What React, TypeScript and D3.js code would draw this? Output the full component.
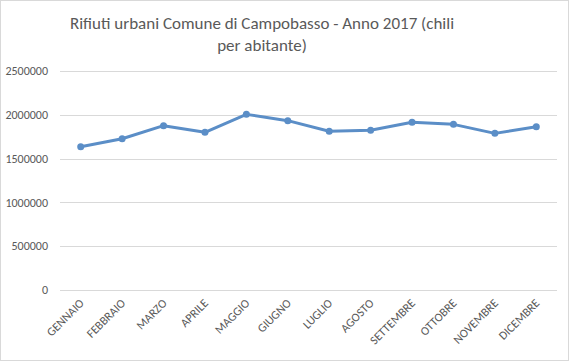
import React, { useEffect, useRef } from 'react';
import * as d3 from 'd3';

const months = ['GENNAIO', 'FEBBRAIO', 'MARZO', 'APRILE', 'MAGGIO', 'GIUGNO', 'LUGLIO', 'AGOSTO', 'SETTEMBRE', 'OTTOBRE', 'NOVEMBRE', 'DICEMBRE'];
const values = [1636000, 1727000, 1876000, 1800000, 2005000, 1933000, 1812000, 1823000, 1914000, 1891000, 1788000, 1864000];
const yTicks = [0, 500000, 1000000, 1500000, 2000000, 2500000];
const titleLines = ['Rifiuti urbani Comune di Campobasso - Anno 2017 (chili', 'per abitante)'];

const width = 569;
const height = 361;
const font = 'Calibri, Carlito, "Open Sans", sans-serif';

const App: React.FC = () => {
    const svgRef = useRef<SVGSVGElement>(null);

    useEffect(() => {
        const svg = d3.select(svgRef.current);
        svg.selectAll('*').remove();

        svg.append('rect')
            .attr('x', 0.5).attr('y', 0.5)
            .attr('width', width - 1).attr('height', height - 1)
            .attr('fill', '#fff')
            .attr('stroke', '#d9d9d9');

        const x = d3.scaleBand<string>().domain(months).range([60, 557]);
        const y = d3.scaleLinear().domain([0, 2500000]).range([290, 71]);

        // Title
        svg.append('g')
            .selectAll('text')
            .data(titleLines)
            .enter()
            .append('text')
            .attr('x', 262)
            .attr('y', (d, i) => 29 + i * 22)
            .attr('text-anchor', 'middle')
            .style('font-family', font)
            .style('font-size', '17px')
            .style('fill', '#595959')
            .text(d => d);

        // Gridlines
        svg.append('g')
            .selectAll('line')
            .data(yTicks)
            .enter()
            .append('line')
            .attr('x1', 60).attr('x2', 557)
            .attr('y1', d => Math.round(y(d)) + 0.5)
            .attr('y2', d => Math.round(y(d)) + 0.5)
            .attr('stroke', '#d9d9d9')
            .attr('stroke-width', 1);

        // Y labels
        svg.append('g')
            .selectAll('text')
            .data(yTicks)
            .enter()
            .append('text')
            .attr('x', 48)
            .attr('y', d => y(d))
            .attr('dy', '0.35em')
            .attr('text-anchor', 'end')
            .style('font-family', font)
            .style('font-size', '12px')
            .style('fill', '#595959')
            .text(d => String(d));

        // X labels
        svg.append('g')
            .selectAll('text')
            .data(months)
            .enter()
            .append('text')
            .attr('transform', d => `translate(${(x(d) ?? 0) + x.bandwidth() / 2 + 1},${301}) rotate(-45)`)
            .attr('text-anchor', 'end')
            .attr('dy', '0.35em')
            .style('font-family', font)
            .style('font-size', '12px')
            .style('fill', '#595959')
            .text(d => d);

        const pts = months.map((m, i) => [(x(m) ?? 0) + x.bandwidth() / 2, y(values[i])] as [number, number]);

        svg.append('path')
            .attr('d', d3.line()(pts) || '')
            .attr('fill', 'none')
            .attr('stroke', '#5b8ec7')
            .attr('stroke-width', 3)
            .attr('stroke-linejoin', 'round');

        svg.append('g')
            .selectAll('circle')
            .data(pts)
            .enter()
            .append('circle')
            .attr('cx', d => d[0])
            .attr('cy', d => d[1])
            .attr('r', 3.5)
            .attr('fill', '#5b8ec7');
    }, []);

    return <svg ref={svgRef} width={width} height={height} style={{ position: 'absolute', left: 0, top: 0 }} />;
};

export default App;
